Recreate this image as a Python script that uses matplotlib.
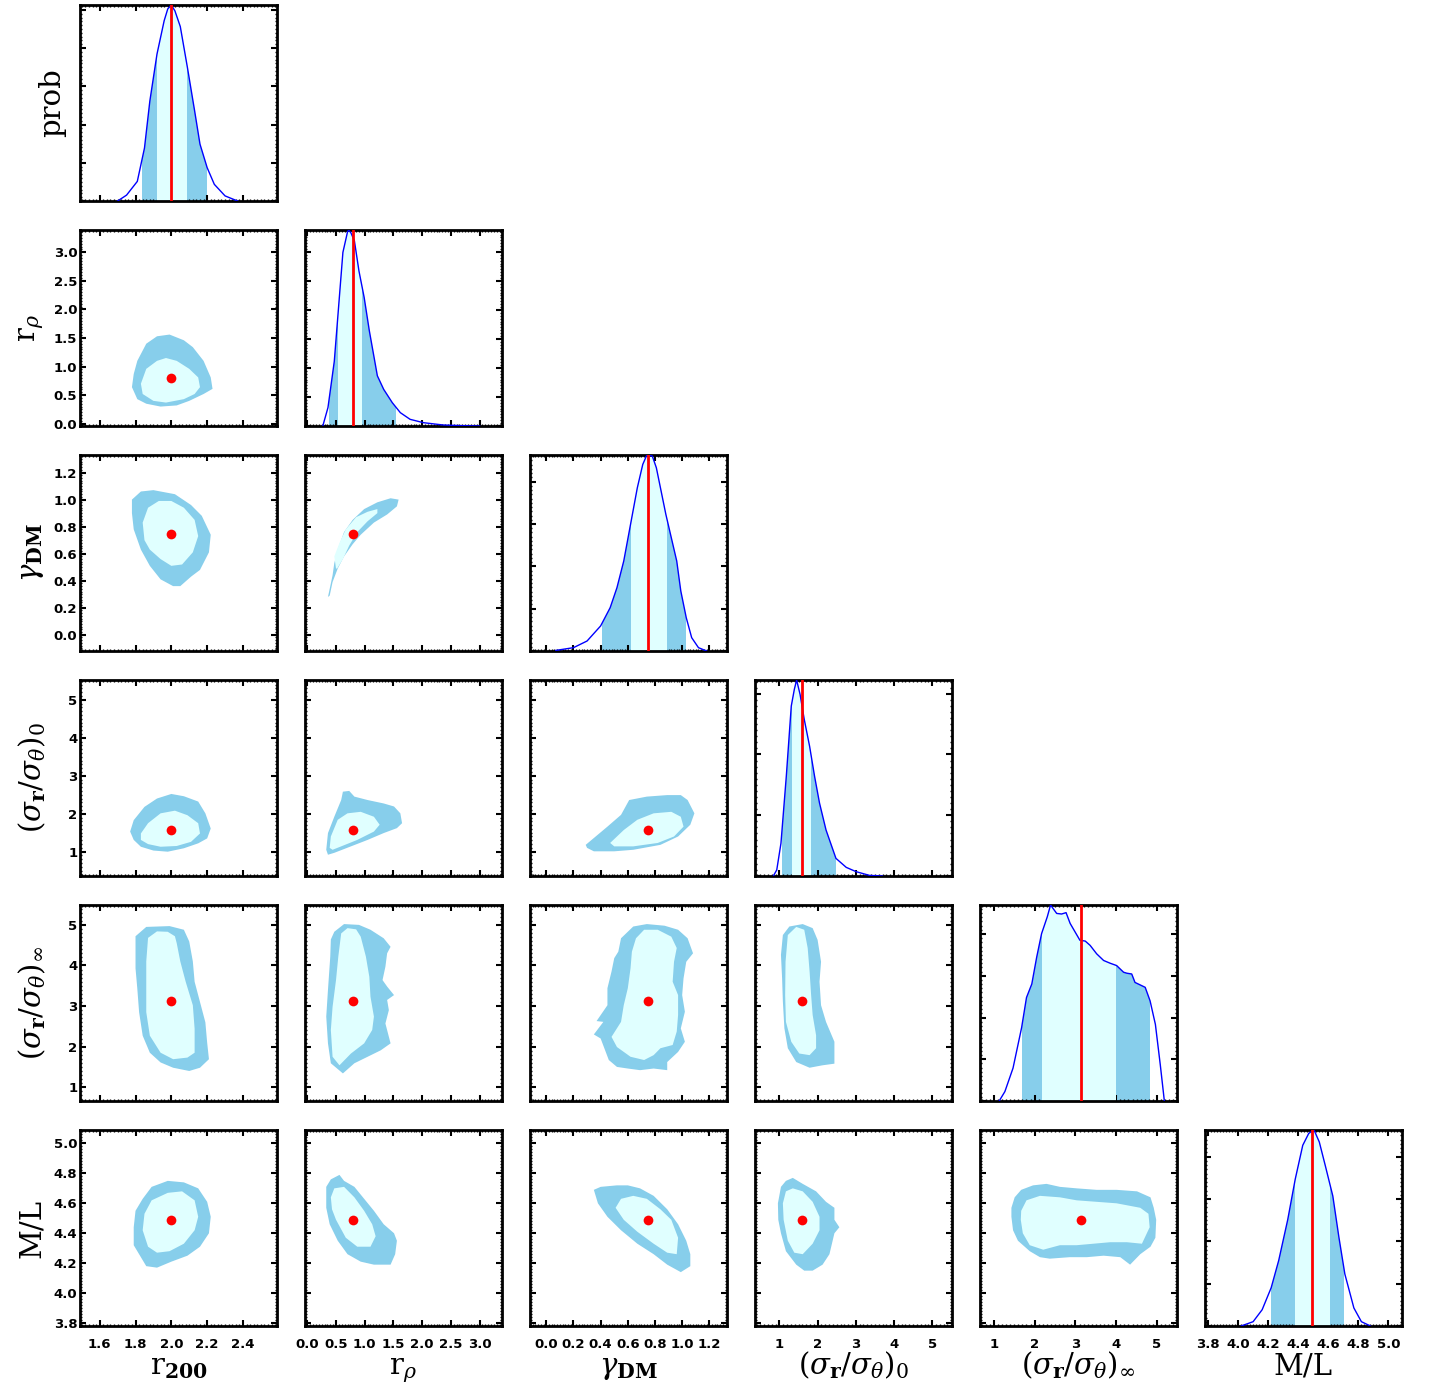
import numpy as np
import matplotlib
matplotlib.use('Agg')
import matplotlib.pyplot as plt
from matplotlib.patches import Polygon
from matplotlib.ticker import MultipleLocator, AutoMinorLocator, FormatStrFormatter

plt.rcParams['mathtext.fontset'] = 'dejavuserif'

# ---------------------------------------------------------
# parameters
# ---------------------------------------------------------
labels = [r'r$_{\mathbf{200}}$', r'r$_{\rho}$', r'$\gamma_{\mathbf{DM}}$',
          r'$(\sigma_{\mathbf{r}}/\sigma_{\theta})_0$', r'$(\sigma_{\mathbf{r}}/\sigma_{\theta})_\infty$', 'M/L']
ranges = [(1.49, 2.59), (-0.04, 3.39), (-0.12, 1.33), (0.36, 5.52), (0.66, 5.49), (3.78, 5.09)]
best = [2.0, 0.80, 0.745, 1.58, 3.13, 4.49]
major_step = [0.2, 0.5, 0.2, 1, 1, 0.2]
tick_fmt = ['%.1f', '%.1f', '%.1f', '%d', '%d', '%.1f']
prob_step = [0.195, 0.148, 0.216, 0.31, 0.213, 0.216]

# ---------------------------------------------------------
# 1D marginal distributions (normalised to peak)
# ---------------------------------------------------------
r200_x = [1.70, 1.75, 1.81, 1.85, 1.88, 1.92, 1.96, 1.98, 2.00, 2.02, 2.05, 2.09, 2.13, 2.16, 2.20, 2.24, 2.30, 2.37]
r200_p = [0.0, 0.03, 0.10, 0.27, 0.51, 0.75, 0.92, 0.98, 1.00, 0.97, 0.89, 0.68, 0.46, 0.29, 0.17, 0.085, 0.026, 0.0]

rrho_x = [0.27, 0.36, 0.47, 0.62, 0.70, 0.72, 0.76, 0.82, 0.90, 0.99, 1.08, 1.22, 1.33, 1.48, 1.62, 1.79, 2.02, 2.37, 2.66, 3.0]
rrho_p = [0.0, 0.094, 0.33, 0.886, 0.99, 1.0, 0.985, 0.945, 0.79, 0.656, 0.486, 0.256, 0.187, 0.119, 0.068, 0.034, 0.017, 0.005, 0.002, 0.0]

gamma_x = [0.07, 0.20, 0.30, 0.40, 0.47, 0.52, 0.57, 0.62, 0.67, 0.71, 0.74, 0.78, 0.81, 0.84, 0.88, 0.92, 0.96, 0.99, 1.03, 1.07, 1.12, 1.18]
gamma_p = [0.003, 0.017, 0.051, 0.128, 0.221, 0.323, 0.459, 0.646, 0.833, 0.952, 1.0, 0.995, 0.935, 0.833, 0.697, 0.578, 0.459, 0.306, 0.17, 0.068, 0.017, 0.0]

sig0_x = [0.84, 0.93, 1.04, 1.18, 1.31, 1.39, 1.45, 1.54, 1.65, 1.79, 1.92, 2.05, 2.22, 2.48, 2.75, 3.01, 3.36, 3.70]
sig0_p = [0.0, 0.031, 0.167, 0.509, 0.867, 0.952, 1.0, 0.927, 0.799, 0.662, 0.509, 0.372, 0.235, 0.09, 0.044, 0.022, 0.003, 0.0]

siginf_x = [1.13, 1.27, 1.47, 1.68, 1.80, 1.93, 2.05, 2.17, 2.31, 2.39, 2.54, 2.66, 2.77, 2.87, 2.99, 3.11,
            3.24, 3.36, 3.52, 3.69, 3.85, 4.01, 4.18, 4.26, 4.38, 4.46, 4.71, 4.83, 4.96, 5.08, 5.18]
siginf_p = [0.0, 0.048, 0.168, 0.374, 0.528, 0.597, 0.734, 0.854, 0.94, 1.0, 0.957, 0.954, 0.961, 0.906, 0.863, 0.82,
            0.816, 0.794, 0.751, 0.717, 0.703, 0.691, 0.657, 0.652, 0.648, 0.605, 0.58, 0.511, 0.391, 0.185, 0.0]

ml_x = [4.02, 4.10, 4.16, 4.22, 4.27, 4.33, 4.38, 4.43, 4.47, 4.505, 4.54, 4.58, 4.63, 4.67, 4.71, 4.77, 4.82, 4.88]
ml_p = [0.0, 0.022, 0.083, 0.195, 0.334, 0.542, 0.749, 0.922, 0.983, 1.0, 0.939, 0.818, 0.663, 0.455, 0.265, 0.092, 0.022, 0.0]

# credible intervals: lo95, lo68, hi68, hi95
r200_ci = [1.838, 1.92, 2.085, 2.197]
rrho_ci = [0.374, 0.53, 0.96, 1.55]
gamma_ci = [0.408, 0.627, 0.886, 1.03]
sig0_ci = [1.07, 1.32, 1.83, 2.47]
siginf_ci = [1.70, 2.18, 3.99, 4.83]
ml_ci = [4.218, 4.379, 4.611, 4.707]

marg = [(r200_x, r200_p, r200_ci), (rrho_x, rrho_p, rrho_ci), (gamma_x, gamma_p, gamma_ci),
        (sig0_x, sig0_p, sig0_ci), (siginf_x, siginf_p, siginf_ci), (ml_x, ml_p, ml_ci)]

# ---------------------------------------------------------
# 2D confidence regions (outer = 95%, inner = 68%), (x, y) pairs
# ---------------------------------------------------------
c01_out = [(1.78, 0.64), (1.79, 0.87), (1.81, 1.10), (1.86, 1.40), (1.92, 1.53), (1.99, 1.56), (2.07, 1.46), (2.12, 1.34),
           (2.18, 1.10), (2.22, 0.81), (2.23, 0.61), (2.18, 0.52), (2.10, 0.40), (2.03, 0.32), (1.94, 0.30), (1.86, 0.35), (1.81, 0.43)]
c01_in = [(1.83, 0.70), (1.86, 0.96), (1.92, 1.10), (1.97, 1.15), (2.03, 1.10), (2.10, 0.96), (2.15, 0.81), (2.16, 0.64),
          (2.13, 0.52), (2.07, 0.43), (1.97, 0.37), (1.90, 0.40), (1.84, 0.52)]

c02_out = [(1.78, 1.00), (1.83, 1.06), (1.90, 1.07), (2.02, 1.04), (2.11, 0.96), (2.17, 0.88), (2.22, 0.74), (2.21, 0.61),
           (2.16, 0.48), (2.11, 0.43), (2.05, 0.36), (2.01, 0.36), (1.94, 0.41), (1.88, 0.51), (1.83, 0.63), (1.79, 0.78), (1.78, 0.90)]
c02_in = [(1.84, 0.83), (1.87, 0.94), (1.93, 0.99), (2.00, 0.99), (2.07, 0.94), (2.13, 0.85), (2.15, 0.73), (2.12, 0.61),
          (2.06, 0.52), (2.00, 0.51), (1.94, 0.56), (1.88, 0.63), (1.85, 0.70)]

c03_out = [(1.77, 1.53), (1.79, 1.83), (1.85, 2.18), (1.92, 2.40), (2.00, 2.52), (2.07, 2.46), (2.15, 2.32), (2.19, 2.01),
           (2.22, 1.61), (2.20, 1.35), (2.15, 1.22), (2.07, 1.09), (1.98, 1.00), (1.90, 1.03), (1.83, 1.13), (1.79, 1.31)]
c03_in = [(1.83, 1.48), (1.87, 1.75), (1.94, 2.01), (2.02, 2.08), (2.09, 1.96), (2.15, 1.75), (2.16, 1.48), (2.11, 1.26),
          (2.03, 1.15), (1.94, 1.13), (1.87, 1.20), (1.83, 1.31)]

c04_out = [(1.80, 4.72), (1.86, 4.95), (1.99, 4.97), (2.07, 4.88), (2.10, 4.59), (2.12, 4.10), (2.13, 3.60), (2.16, 3.10),
           (2.19, 2.60), (2.20, 2.10), (2.21, 1.69), (2.16, 1.48), (2.10, 1.40), (2.01, 1.48), (1.94, 1.61), (1.88, 1.85),
           (1.84, 2.27), (1.82, 2.85), (1.81, 3.43), (1.80, 3.93), (1.80, 4.34)]
c04_in = [(1.87, 4.68), (1.92, 4.84), (1.98, 4.83), (2.02, 4.72), (2.03, 4.55), (2.05, 4.10), (2.08, 3.60), (2.12, 3.02),
          (2.13, 2.44), (2.13, 1.85), (2.09, 1.73), (2.01, 1.69), (1.94, 1.85), (1.88, 2.27), (1.86, 2.85), (1.86, 3.43), (1.86, 4.10)]

c05_out = [(1.79, 4.44), (1.80, 4.55), (1.84, 4.63), (1.89, 4.71), (1.98, 4.75), (2.07, 4.74), (2.15, 4.70), (2.20, 4.61),
           (2.22, 4.51), (2.21, 4.40), (2.16, 4.31), (2.09, 4.25), (2.00, 4.21), (1.92, 4.17), (1.86, 4.18), (1.82, 4.26), (1.79, 4.32)]
c05_in = [(1.84, 4.42), (1.85, 4.53), (1.89, 4.62), (1.98, 4.67), (2.06, 4.68), (2.13, 4.62), (2.15, 4.51), (2.13, 4.42),
          (2.07, 4.33), (1.99, 4.28), (1.92, 4.27), (1.87, 4.31)]

c12_out = [(0.36, 0.28), (0.39, 0.34), (0.44, 0.44), (0.47, 0.53), (0.53, 0.63), (0.64, 0.76), (0.79, 0.85), (0.99, 0.93),
           (1.22, 0.98), (1.45, 1.01), (1.59, 1.00), (1.56, 0.95), (1.39, 0.89), (1.16, 0.83), (0.93, 0.74), (0.79, 0.67),
           (0.64, 0.58), (0.53, 0.49), (0.44, 0.39), (0.39, 0.29)]
c12_in = [(0.50, 0.49), (0.47, 0.58), (0.56, 0.68), (0.67, 0.78), (0.85, 0.87), (1.05, 0.91), (1.22, 0.93), (1.22, 0.90),
          (1.05, 0.84), (0.87, 0.76), (0.73, 0.66), (0.62, 0.56), (0.52, 0.49)]

c13_out = [(0.33, 1.05), (0.36, 1.49), (0.47, 1.92), (0.59, 2.36), (0.62, 2.58), (0.73, 2.60), (0.82, 2.45), (1.05, 2.36),
           (1.33, 2.27), (1.51, 2.19), (1.62, 2.01), (1.65, 1.75), (1.56, 1.62), (1.33, 1.49), (1.05, 1.31), (0.76, 1.14),
           (0.47, 0.97), (0.36, 0.92)]
c13_in = [(0.39, 1.10), (0.41, 1.40), (0.53, 1.84), (0.70, 2.01), (0.93, 2.05), (1.16, 1.92), (1.26, 1.71), (1.16, 1.53),
          (0.87, 1.31), (0.59, 1.14), (0.44, 1.05)]

c14_out = [(0.47, 4.83), (0.64, 5.02), (0.90, 5.00), (1.10, 4.88), (1.33, 4.67), (1.45, 4.46), (1.39, 4.30), (1.36, 3.97),
           (1.31, 3.64), (1.39, 3.48), (1.51, 3.27), (1.39, 3.15), (1.42, 2.90), (1.36, 2.57), (1.45, 2.08), (1.28, 1.91),
           (1.05, 1.75), (0.82, 1.59), (0.62, 1.34), (0.41, 1.59), (0.36, 2.08), (0.33, 2.74), (0.36, 3.40), (0.40, 4.22), (0.41, 4.64)]
c14_in = [(0.59, 4.79), (0.70, 4.92), (0.85, 4.89), (0.93, 4.71), (1.02, 4.22), (1.08, 3.72), (1.10, 3.23), (1.16, 2.74),
          (1.13, 2.41), (0.99, 2.08), (0.76, 1.83), (0.56, 1.54), (0.44, 1.75), (0.41, 2.41), (0.44, 2.98), (0.50, 3.64), (0.54, 4.22)]

c15_out = [(0.33, 4.71), (0.41, 4.76), (0.56, 4.79), (0.64, 4.75), (0.82, 4.71), (0.99, 4.63), (1.16, 4.55), (1.33, 4.46),
           (1.51, 4.40), (1.56, 4.35), (1.53, 4.26), (1.45, 4.19), (1.16, 4.19), (0.93, 4.21), (0.70, 4.26), (0.53, 4.35),
           (0.39, 4.46), (0.33, 4.57)]
c15_in = [(0.41, 4.64), (0.47, 4.70), (0.64, 4.71), (0.82, 4.64), (0.99, 4.55), (1.13, 4.46), (1.19, 4.38), (1.10, 4.31),
          (0.87, 4.31), (0.67, 4.37), (0.50, 4.49), (0.43, 4.56)]

c23_out = [(0.29, 1.18), (0.35, 1.36), (0.45, 1.66), (0.55, 1.97), (0.61, 2.36), (0.74, 2.45), (0.89, 2.49), (0.99, 2.49),
           (1.04, 2.36), (1.09, 2.01), (1.06, 1.71), (0.97, 1.40), (0.84, 1.18), (0.64, 1.05), (0.50, 1.01), (0.35, 1.01), (0.30, 1.10)]
c23_in = [(0.47, 1.23), (0.57, 1.57), (0.67, 1.84), (0.79, 2.01), (0.92, 2.05), (0.99, 1.92), (1.01, 1.66), (0.94, 1.40),
          (0.82, 1.23), (0.64, 1.14), (0.50, 1.14)]

c24_out = [(0.55, 4.67), (0.64, 4.96), (0.74, 5.02), (0.87, 4.98), (0.97, 4.88), (1.04, 4.67), (1.08, 4.30), (1.03, 4.09),
           (1.01, 3.68), (1.00, 3.27), (1.02, 2.86), (0.99, 2.45), (1.02, 2.12), (0.97, 1.87), (0.89, 1.62), (0.89, 1.42),
           (0.79, 1.46), (0.69, 1.42), (0.60, 1.46), (0.52, 1.50), (0.46, 1.67), (0.40, 2.20), (0.35, 2.30), (0.42, 2.61),
           (0.37, 2.63), (0.45, 3.02), (0.45, 3.44), (0.48, 3.85), (0.50, 4.18), (0.53, 4.34)]
c24_in = [(0.66, 4.67), (0.72, 4.88), (0.82, 4.88), (0.92, 4.71), (0.96, 4.43), (0.94, 4.09), (0.93, 3.60), (0.97, 3.27),
          (0.97, 2.78), (0.96, 2.37), (0.93, 2.04), (0.84, 1.96), (0.79, 1.79), (0.72, 1.67), (0.62, 1.75), (0.52, 1.99),
          (0.48, 2.24), (0.55, 2.61), (0.57, 3.02), (0.60, 3.44), (0.62, 3.93), (0.63, 4.34)]

c25_out = [(0.35, 4.69), (0.40, 4.71), (0.52, 4.72), (0.60, 4.72), (0.69, 4.70), (0.79, 4.65), (0.89, 4.56), (0.97, 4.46),
           (1.03, 4.35), (1.06, 4.26), (1.06, 4.18), (0.99, 4.14), (0.89, 4.19), (0.79, 4.26), (0.67, 4.33), (0.55, 4.42),
           (0.45, 4.51), (0.38, 4.60)]
c25_in = [(0.51, 4.57), (0.55, 4.63), (0.64, 4.65), (0.74, 4.63), (0.84, 4.56), (0.92, 4.49), (0.97, 4.37), (0.96, 4.26),
          (0.89, 4.27), (0.79, 4.33), (0.67, 4.41), (0.57, 4.49)]

c34_out = [(1.09, 4.75), (1.26, 4.96), (1.61, 5.02), (1.87, 4.92), (2.00, 4.63), (2.09, 4.09), (2.05, 3.60), (2.09, 3.02),
           (2.22, 2.61), (2.44, 2.12), (2.44, 1.58), (2.13, 1.54), (1.79, 1.48), (1.44, 1.62), (1.22, 1.96), (1.13, 2.45),
           (1.09, 3.11), (1.07, 3.68), (1.04, 4.26)]
c34_in = [(1.22, 4.75), (1.44, 4.95), (1.65, 4.88), (1.74, 4.43), (1.79, 3.85), (1.83, 3.27), (1.87, 2.78), (1.96, 2.28),
          (1.96, 1.96), (1.79, 1.79), (1.52, 1.83), (1.31, 2.12), (1.17, 2.61), (1.15, 3.27), (1.16, 4.09)]

c35_out = [(0.96, 4.60), (1.04, 4.71), (1.17, 4.75), (1.35, 4.77), (1.61, 4.73), (1.96, 4.68), (2.22, 4.61), (2.44, 4.57),
           (2.44, 4.49), (2.57, 4.44), (2.44, 4.40), (2.31, 4.26), (2.13, 4.19), (1.87, 4.15), (1.65, 4.15), (1.44, 4.19),
           (1.17, 4.28), (1.04, 4.40), (0.97, 4.49)]
c35_in = [(1.09, 4.60), (1.17, 4.68), (1.35, 4.70), (1.61, 4.68), (1.87, 4.61), (2.05, 4.51), (2.05, 4.42), (1.87, 4.33),
          (1.61, 4.26), (1.39, 4.27), (1.22, 4.35), (1.11, 4.49)]

c45_out = [(1.43, 4.57), (1.51, 4.64), (1.67, 4.69), (1.96, 4.72), (2.29, 4.73), (2.62, 4.71), (3.03, 4.70), (3.52, 4.69),
           (4.01, 4.69), (4.51, 4.68), (4.84, 4.64), (4.92, 4.57), (4.98, 4.49), (4.96, 4.37), (4.84, 4.31), (4.59, 4.26),
           (4.34, 4.19), (4.10, 4.24), (3.69, 4.25), (3.28, 4.24), (2.86, 4.24), (2.37, 4.23), (2.13, 4.24), (1.88, 4.28),
           (1.59, 4.35), (1.47, 4.42), (1.43, 4.51)]
c45_in = [(1.67, 4.55), (1.80, 4.62), (2.13, 4.65), (2.62, 4.64), (3.03, 4.62), (3.52, 4.61), (4.01, 4.60), (4.59, 4.57),
          (4.79, 4.53), (4.82, 4.44), (4.63, 4.33), (4.26, 4.34), (3.85, 4.34), (3.44, 4.33), (3.03, 4.32), (2.62, 4.32),
          (2.21, 4.29), (1.88, 4.32), (1.71, 4.40), (1.66, 4.49)]

contours = {(0, 1): (c01_out, c01_in), (0, 2): (c02_out, c02_in), (0, 3): (c03_out, c03_in),
            (0, 4): (c04_out, c04_in), (0, 5): (c05_out, c05_in), (1, 2): (c12_out, c12_in),
            (1, 3): (c13_out, c13_in), (1, 4): (c14_out, c14_in), (1, 5): (c15_out, c15_in),
            (2, 3): (c23_out, c23_in), (2, 4): (c24_out, c24_in), (2, 5): (c25_out, c25_in),
            (3, 4): (c34_out, c34_in), (3, 5): (c35_out, c35_in), (4, 5): (c45_out, c45_in)}

# ---------------------------------------------------------
# plot
# ---------------------------------------------------------
DARK = '#87CEEB'
LIGHT = '#E0FFFF'
W, H = 1429, 1389
fig = plt.figure(figsize=(W / 100, H / 100), dpi=100)

label_font = {'family': 'DejaVu Serif', 'size': 21}


def style_axis(ax):
    for s in ax.spines.values():
        s.set_linewidth(2.0)
    ax.tick_params(which='major', direction='in', length=4, width=1.5, top=True, right=True, pad=2)
    ax.tick_params(which='minor', direction='in', length=1.6, width=1.0, top=True, right=True)
    ax.tick_params(axis='x', which='major', pad=9)


for i in range(6):
    for j in range(i + 1):
        left = (80 + 225 * j) / W
        bottom = 1 - (5 + 225 * i + 196) / H
        ax = fig.add_axes([left, bottom, 197 / W, 196 / H])
        style_axis(ax)

        ax.set_xlim(ranges[j])
        ax.xaxis.set_major_locator(MultipleLocator(major_step[j]))
        ax.xaxis.set_minor_locator(AutoMinorLocator(10))
        ax.xaxis.set_major_formatter(FormatStrFormatter(tick_fmt[j]))

        if i == j:
            x, p, ci = marg[i]
            ax.set_ylim(0, 1.0)
            ax.yaxis.set_major_locator(MultipleLocator(prob_step[i]))
            ax.yaxis.set_minor_locator(AutoMinorLocator(10))
            # area under the curve used as clip region for the shaded intervals
            under = Polygon(list(zip(x, p)) + [(x[-1], 0), (x[0], 0)], closed=True,
                            transform=ax.transData, facecolor='none', edgecolor='none')
            ax.add_patch(under)
            s1 = ax.axvspan(ci[0], ci[3], color=DARK, lw=0, zorder=1)
            s2 = ax.axvspan(ci[1], ci[2], color=LIGHT, lw=0, zorder=2)
            s1.set_clip_path(under)
            s2.set_clip_path(under)
            ax.plot(x, p, color='blue', lw=1.0, zorder=3)
            ax.axvline(best[i], color='red', lw=2.0, zorder=4)
            ax.tick_params(axis='y', labelleft=False)
        else:
            ax.set_ylim(ranges[i])
            ax.yaxis.set_major_locator(MultipleLocator(major_step[i]))
            ax.yaxis.set_minor_locator(AutoMinorLocator(10))
            ax.yaxis.set_major_formatter(FormatStrFormatter(tick_fmt[i]))
            outer, inner = contours[(j, i)]
            ax.fill([v[0] for v in outer], [v[1] for v in outer], color=DARK, lw=0, zorder=1)
            ax.fill([v[0] for v in inner], [v[1] for v in inner], color=LIGHT, lw=0, zorder=2)
            ax.plot(best[j], best[i], 'o', color='red', ms=7, mec='none', zorder=3)
            if j > 0:
                ax.tick_params(axis='y', labelleft=False)

        if i < 5:
            ax.tick_params(axis='x', labelbottom=False)

        for t in ax.get_xticklabels() + ax.get_yticklabels():
            t.set_family('DejaVu Sans')
            t.set_fontsize(9.5)
            t.set_fontweight('bold')

        # axis titles
        if j == 0:
            ylab = 'prob' if i == 0 else labels[i]
            xpos = -0.14 if i == 0 else -0.245
            ax.text(xpos, 0.5, ylab, transform=ax.transAxes, rotation=90,
                    ha='center', va='center', fontdict=label_font)
        if i == 5:
            ax.text(0.5, -0.245, labels[j], transform=ax.transAxes,
                    ha='center', va='baseline', fontdict=label_font)

fig.savefig('out.png', dpi=100)
